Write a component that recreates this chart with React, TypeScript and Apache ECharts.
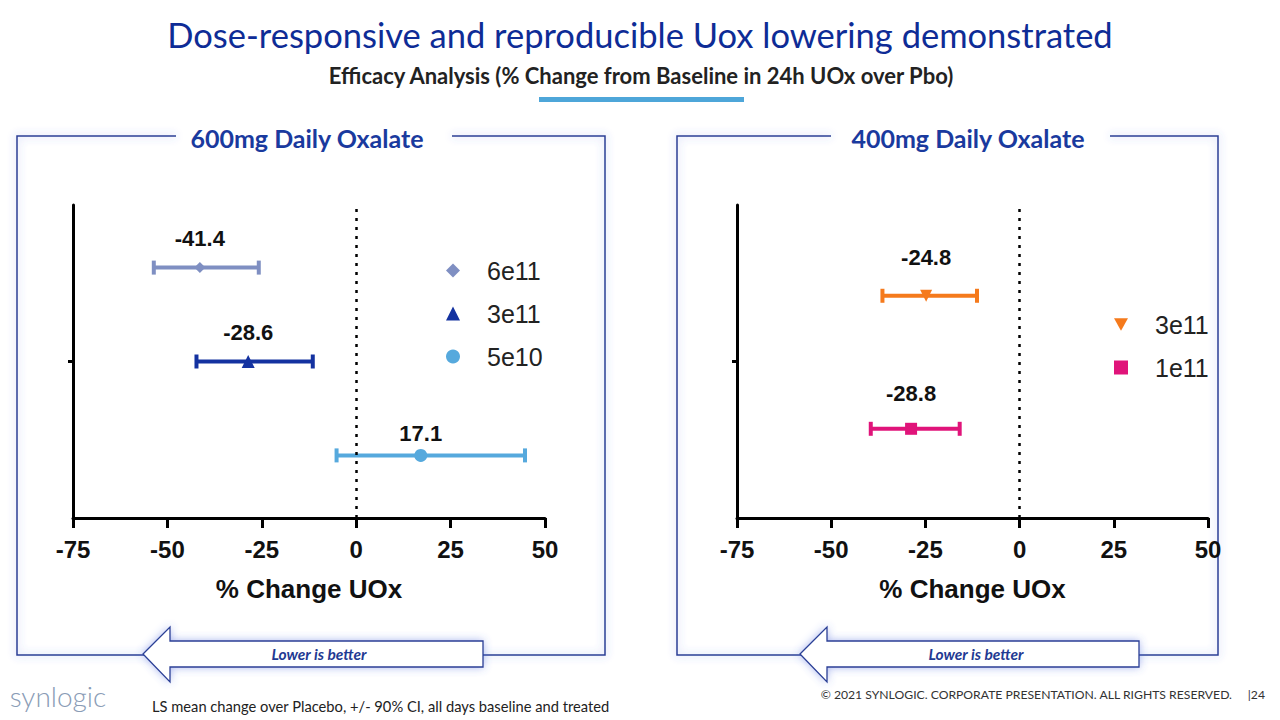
import React, { useEffect, useRef } from "react";
import * as echarts from "echarts";

// ---------- data ----------
const xTickValues = [-75, -50, -25, 0, 25, 50];

// 600mg Daily Oxalate panel
const leftGroups = ["6e11", "3e11", "5e10"];
const leftMeans = [-41.4, -28.6, 17.1];
const leftLow = [-53.6, -42.3, -5.2];
const leftHigh = [-25.8, -11.5, 44.7];
const leftRows = [80, 50, 20];

// 400mg Daily Oxalate panel
const rightGroups = ["3e11", "1e11"];
const rightMeans = [-24.8, -28.8];
const rightLow = [-36.4, -39.5];
const rightHigh = [-11.3, -15.9];
const rightRows = [71, 28.5];

// ---------- styles ----------
const leftColors = ["#7f8fc2", "#1432a0", "#56a9dd"];
const leftSymbols = ["diamond", "triangle", "circle"];
const leftSymbolSizes = [11, 13, 13];
const leftLabelOffsets = [-29, -29, -22];

const rightColors = ["#f57a1c", "#e0147a"];
const rightSymbols = ["path://M0,0L10,0L5,9Z", "rect"];
const rightSymbolSizes = [12, 12];
const rightLabelOffsets = [-38, -35];

const NUM_FONT = "'Liberation Sans', Arial, sans-serif";
const CAL_FONT = "Lato, 'Open Sans', sans-serif";

function errorBarSeries(id: string, name: string, gridIdx: number, color: string, lo: number, hi: number, row: number) {
  return {
    type: "custom",
    id,
    name,
    xAxisIndex: gridIdx,
    yAxisIndex: gridIdx,
    z: 3,
    silent: true,
    encode: { x: [0, 1], y: 2 },
    data: [[lo, hi, row]],
    renderItem: (params: any, api: any) => {
      const a = api.coord([api.value(0), api.value(2)]);
      const b = api.coord([api.value(1), api.value(2)]);
      const h = 7;
      const style = { stroke: color, lineWidth: 4 };
      return {
        type: "group",
        children: [
          { type: "line", shape: { x1: a[0], y1: a[1], x2: b[0], y2: b[1] }, style },
          { type: "line", shape: { x1: a[0], y1: a[1] - h, x2: a[0], y2: a[1] + h }, style },
          { type: "line", shape: { x1: b[0], y1: b[1] - h, x2: b[0], y2: b[1] + h }, style },
        ],
      };
    },
  };
}

function meanSeries(name: string, gridIdx: number, color: string, symbol: string, size: number, mean: number, row: number, offY: number) {
  return {
    type: "scatter",
    name,
    xAxisIndex: gridIdx,
    yAxisIndex: gridIdx,
    z: 4,
    symbol,
    symbolSize: size,
    itemStyle: { color, opacity: 1 },
    data: [[mean, row]],
    label: {
      show: true,
      position: "inside",
      offset: [0, offY],
      formatter: (p: any) => Number(p.value[0]).toFixed(1),
      fontFamily: NUM_FONT,
      fontWeight: "bold",
      fontSize: 22,
      color: "#111",
    },
  };
}

function zeroLineSeries(gridIdx: number) {
  return {
    type: "line",
    name: "zero" + gridIdx,
    xAxisIndex: gridIdx,
    yAxisIndex: gridIdx,
    z: 1,
    data: [],
    markLine: {
      silent: true,
      symbol: "none",
      label: { show: false },
      lineStyle: { color: "#000", type: [3, 6], width: 2.5 },
      data: [{ xAxis: 0 }],
    },
  };
}

function xAxisCfg(gridIndex: number) {
  return {
    type: "value",
    gridIndex,
    min: -75,
    max: 50,
    interval: 25,
    splitLine: { show: false },
    axisLine: { onZero: false, lineStyle: { color: "#000", width: 3 } },
    axisTick: { length: 10, lineStyle: { color: "#000", width: 3 }, customValues: xTickValues },
    axisLabel: {
      margin: 19,
      fontFamily: NUM_FONT,
      fontWeight: "bold",
      fontSize: 24,
      color: "#111",
      customValues: xTickValues,
    },
    name: "% Change UOx",
    nameLocation: "middle",
    nameGap: 58,
    nameTextStyle: { fontFamily: NUM_FONT, fontWeight: "bold", fontSize: 26, color: "#111" },
  };
}

function yAxisCfg(gridIndex: number) {
  return {
    type: "value",
    gridIndex,
    min: 0,
    max: 100,
    splitLine: { show: false },
    axisLine: { show: true, onZero: false, lineStyle: { color: "#000", width: 3 } },
    axisTick: { show: true, length: 5, customValues: [50], lineStyle: { color: "#000", width: 3 } },
    axisLabel: { show: false },
  };
}

function panelBox(x1: number, x2: number, gapL: number, gapR: number, top: number, bottom: number) {
  return {
    type: "polyline",
    shape: {
      points: [
        [gapL, top],
        [x1, top],
        [x1, bottom],
        [x2, bottom],
        [x2, top],
        [gapR, top],
      ],
    },
    style: {
      fill: null,
      stroke: "#2b3f95",
      lineWidth: 1.5,
      shadowBlur: 8,
      shadowColor: "rgba(70,100,220,0.45)",
    },
  };
}

function arrow(tip: number, headX: number, endX: number, cy: number) {
  return {
    type: "polygon",
    shape: {
      points: [
        [tip, cy],
        [headX, cy - 27],
        [headX, cy - 13],
        [endX, cy - 13],
        [endX, cy + 13],
        [headX, cy + 13],
        [headX, cy + 28],
      ],
    },
    style: {
      fill: "#ffffff",
      stroke: "#2b3f95",
      lineWidth: 1.3,
      shadowBlur: 8,
      shadowColor: "rgba(70,100,220,0.45)",
    },
  };
}

function txt(text: string, x: number, y: number, size: number, color: string, opts: any = {}) {
  return {
    type: "text",
    style: {
      text,
      x,
      y,
      fontSize: size,
      fontFamily: opts.fontFamily || CAL_FONT,
      fontWeight: opts.fontWeight || "normal",
      fontStyle: opts.fontStyle || "normal",
      fill: color,
      align: opts.align || "center",
      verticalAlign: "middle",
    },
  };
}

export default function App() {
  const ref = useRef<HTMLDivElement>(null);

  useEffect(() => {
    if (!ref.current) return;
    const chart = echarts.init(ref.current, null, { renderer: "svg" });

    const series: any[] = [zeroLineSeries(0), zeroLineSeries(1)];
    leftGroups.forEach((g, i) => {
      series.push(errorBarSeries("lci" + i, g + " CI|L", 0, leftColors[i], leftLow[i], leftHigh[i], leftRows[i]));
    });
    rightGroups.forEach((g, i) => {
      series.push(errorBarSeries("rci" + i, g + " CI|R", 1, rightColors[i], rightLow[i], rightHigh[i], rightRows[i]));
    });
    leftGroups.forEach((g, i) => {
      series.push(
        meanSeries(g + "|L", 0, leftColors[i], leftSymbols[i], leftSymbolSizes[i], leftMeans[i], leftRows[i], leftLabelOffsets[i])
      );
    });
    rightGroups.forEach((g, i) => {
      series.push(
        meanSeries(g + "|R", 1, rightColors[i], rightSymbols[i], rightSymbolSizes[i], rightMeans[i], rightRows[i], rightLabelOffsets[i])
      );
    });

    const legendText = {
      fontFamily: NUM_FONT,
      fontSize: 25,
      color: "#222",
      padding: [0, 0, 0, 22],
    };

    chart.setOption({
      animation: false,
      backgroundColor: "#ffffff",
      grid: [
        { left: 73, right: 735, top: 205, bottom: 202 },
        { left: 737, right: 72, top: 205, bottom: 202 },
      ],
      xAxis: [xAxisCfg(0), xAxisCfg(1)],
      yAxis: [yAxisCfg(0), yAxisCfg(1)],
      legend: [
        {
          orient: "vertical",
          left: 441,
          top: 253,
          itemWidth: 14,
          itemHeight: 14,
          itemGap: 18,
          selectedMode: false,
          data: leftGroups.map((g) => g + "|L"),
          formatter: (n: string) => n.split("|")[0],
          textStyle: legendText,
        },
        {
          orient: "vertical",
          left: 1109,
          top: 307,
          itemWidth: 14,
          itemHeight: 14,
          itemGap: 18,
          selectedMode: false,
          data: rightGroups.map((g) => g + "|R"),
          formatter: (n: string) => n.split("|")[0],
          textStyle: legendText,
        },
      ],
      series,
      graphic: [
        txt("Dose-responsive and reproducible Uox lowering demonstrated", 640, 34, 34.5, "#0e2c96"),
        txt("Efficacy Analysis (% Change from Baseline in 24h UOx over Pbo)", 641, 75, 22, "#222", { fontWeight: "bold" }),
        { type: "rect", shape: { x: 539, y: 97, width: 205, height: 5 }, style: { fill: "#4ea6d9" } },
        panelBox(17, 605, 176, 452, 136, 655),
        panelBox(677, 1218, 831, 1110, 136, 655),
        txt("600mg Daily Oxalate", 307, 138, 25, "#1a3a9e", { fontWeight: "bold" }),
        txt("400mg Daily Oxalate", 968, 138, 25, "#1a3a9e", { fontWeight: "bold" }),
        arrow(143, 170, 483, 654),
        arrow(800, 827, 1139, 654),
        txt("Lower is better", 319, 654, 15.5, "#1f3a93", { fontWeight: "bold", fontStyle: "italic" }),
        txt("Lower is better", 976, 654, 15.5, "#1f3a93", { fontWeight: "bold", fontStyle: "italic" }),
        txt("synlogic", 58, 696, 28, "#8a9cb6", { fontWeight: 300 }),
        txt("LS mean change over Placebo, +/- 90% CI, all days baseline and treated", 152, 706, 14.7, "#222", { align: "left" }),
        txt("© 2021 SYNLOGIC. CORPORATE PRESENTATION. ALL RIGHTS RESERVED.", 1232, 694, 12.2, "#333", { align: "right" }),
        txt("|24", 1265, 694, 12.2, "#333", { align: "right" }),
      ],
    });

    return () => chart.dispose();
  }, []);

  return (
    <div
      ref={ref}
      style={{ position: "absolute", left: 0, top: 0, width: 1280, height: 720, background: "#fff" }}
    />
  );
}
